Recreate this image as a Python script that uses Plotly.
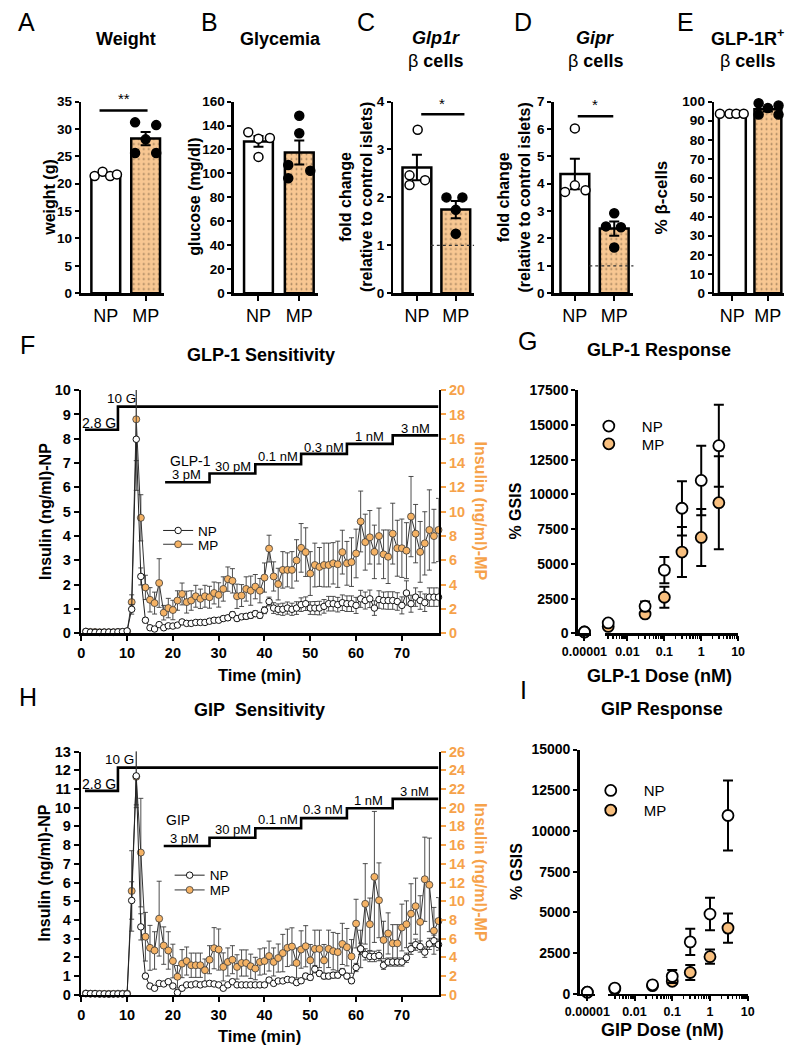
import numpy as np
import plotly.graph_objects as go

W, H = 805, 1055
FONT = "Liberation Sans, Arial, Helvetica, sans-serif"
ORANGE_BAR = "#F8C792"
ORANGE_PT = "#F5B264"
ORANGE_DOT = "#F8BF7E"
ORANGE_TXT = "#F6A24A"

# ======================= DATA =======================
GROUPS = ["NP", "MP"]

WEIGHT_NP = [21.4, 22.2, 21.4, 21.7]
WEIGHT_MP = [31.2, 30.7, 28.1, 25.6, 25.6]
GLUCOSE_NP = [134.4, 113.8, 129.0, 129.6]
GLUCOSE_MP = [148.2, 133.6, 107.0, 96.0, 102.3]
GLP1R_NP = [3.41, 2.46, 2.26, 2.36]
GLP1R_MP = [2.00, 2.00, 1.24, 1.74]
GIPR_NP = [6.02, 3.70, 3.94, 3.76]
GIPR_MP = [2.92, 2.44, 2.41, 1.67]
GLP1R_POS_NP = [93.6, 93.6, 93.6, 93.6]
GLP1R_POS_MP = [99.1, 96.6, 97.9, 93.2, 93.2]

T_MIN = list(range(1, 79))  # sampling times (min)

NP_F = [0.08, 0.05, 0.04, 0.04, 0.05, 0.05, 0.05, 0.06, 0.07, 0.10,
        0.99, 7.98, 2.34, 0.54, 0.23, 0.18, 0.36, 0.23, 0.31, 0.30,
        0.34, 0.47, 0.41, 0.41, 0.45, 0.45, 0.45, 0.50, 0.54, 0.54,
        0.61, 0.64, 0.77, 0.61, 0.68, 0.70, 0.74, 0.81, 0.74, 0.95,
        1.31, 1.04, 0.99, 0.99, 1.04, 0.99, 1.04, 1.18, 1.22, 1.04,
        1.04, 1.04, 1.11, 1.22, 1.22, 1.18, 1.26, 1.22, 1.22, 1.15,
        1.42, 1.35, 1.42, 1.04, 1.39, 1.35, 1.35, 1.35, 1.31, 1.15,
        1.66, 1.22, 1.49, 1.35, 1.26, 1.49, 1.49, 1.49]
NP_F_SEM = [0.03, 0.02, 0.02, 0.02, 0.02, 0.02, 0.02, 0.03, 0.03, 0.04,
            0.20, 2.10, 0.35, 0.10, 0.06, 0.05, 0.08, 0.06, 0.06, 0.06,
            0.06, 0.07, 0.07, 0.07, 0.07, 0.08, 0.08, 0.08, 0.09, 0.09,
            0.10, 0.10, 0.12, 0.10, 0.10, 0.11, 0.12, 0.12, 0.12, 0.14,
            0.18, 0.22, 0.22, 0.25, 0.25, 0.25, 0.26, 0.28, 0.28, 0.26,
            0.27, 0.28, 0.28, 0.30, 0.30, 0.30, 0.32, 0.32, 0.32, 0.33,
            0.35, 0.35, 0.36, 0.30, 0.36, 0.35, 0.36, 0.36, 0.36, 0.35,
            0.50, 0.35, 0.38, 0.36, 0.36, 0.38, 0.38, 0.38]
MP_F = [0.14, 0.12, 0.12, 0.10, 0.10, 0.10, 0.10, 0.12, 0.12, 0.16,
        2.57, 17.6, 9.50, 3.78, 2.76, 2.49, 4.14, 1.70, 2.08, 1.92,
        2.70, 3.24, 2.57, 2.70, 3.05, 2.84, 3.05, 2.97, 3.32, 3.16,
        3.65, 4.46, 4.32, 3.05, 3.11, 3.65, 3.51, 3.84, 3.51, 4.59,
        6.97, 4.68, 4.05, 5.22, 5.22, 5.22, 6.00, 7.03, 6.68, 4.92,
        5.62, 5.46, 5.62, 5.62, 5.76, 5.68, 6.68, 5.76, 5.86, 6.57,
        9.20, 7.50, 7.90, 6.70, 8.00, 6.50, 6.30, 8.20, 7.00, 7.00,
        6.80, 9.60, 8.20, 6.70, 7.40, 8.50, 8.00, 8.50]
MP_F_SEM = [0.05, 0.04, 0.04, 0.04, 0.04, 0.04, 0.04, 0.05, 0.05, 0.06,
            0.6, 3.4, 1.9, 1.0, 1.0, 0.9, 2.0, 0.6, 0.8, 0.8,
            0.8, 0.9, 0.9, 0.8, 0.9, 0.8, 0.9, 0.9, 0.9, 1.0,
            1.0, 1.0, 1.0, 1.0, 0.9, 1.0, 1.2, 1.0, 1.0, 1.2,
            1.1, 1.2, 1.3, 1.5, 1.4, 1.5, 1.7, 2.0, 2.0, 1.8,
            1.8, 1.6, 1.8, 1.8, 1.7, 1.9, 1.8, 1.8, 2.0, 2.0,
            2.5, 2.3, 2.2, 2.2, 2.3, 2.0, 2.2, 2.5, 2.3, 2.4,
            2.3, 3.3, 2.4, 2.5, 2.6, 3.3, 2.2, 2.6]

NP_H = [0.07, 0.06, 0.06, 0.05, 0.05, 0.04, 0.05, 0.05, 0.05, 0.05,
        5.04, 11.7, 3.63, 1.00, 0.47, 0.35, 0.61, 0.58, 0.70, 0.47,
        0.12, 0.35, 0.53, 0.53, 0.58, 0.53, 0.58, 0.61, 0.58, 0.53,
        0.35, 0.53, 0.70, 0.53, 0.53, 0.53, 0.53, 0.53, 0.53, 0.53,
        0.79, 0.61, 0.74, 0.74, 0.82, 0.79, 0.65, 0.75, 1.00, 0.93,
        1.37, 1.14, 1.00, 1.00, 1.05, 1.05, 1.23, 1.00, 0.75, 1.46,
        2.46, 2.16, 2.05, 2.05, 2.10, 1.58, 1.75, 1.75, 1.75, 1.75,
        1.98, 2.46, 2.68, 2.58, 2.28, 2.72, 2.89, 2.68]
NP_H_SEM = [0.03, 0.02, 0.02, 0.02, 0.02, 0.02, 0.02, 0.02, 0.02, 0.03,
            1.0, 1.7, 0.7, 0.15, 0.10, 0.08, 0.10, 0.10, 0.10, 0.10,
            0.06, 0.08, 0.08, 0.08, 0.08, 0.08, 0.08, 0.08, 0.08, 0.08,
            0.08, 0.08, 0.10, 0.08, 0.08, 0.08, 0.08, 0.08, 0.08, 0.08,
            0.12, 0.10, 0.12, 0.12, 0.12, 0.12, 0.12, 0.12, 0.15, 0.15,
            0.20, 0.15, 0.15, 0.15, 0.15, 0.15, 0.18, 0.15, 0.15, 0.22,
            0.30, 0.30, 0.28, 0.28, 0.28, 0.22, 0.22, 0.22, 0.22, 0.22,
            0.25, 0.30, 0.30, 0.30, 0.28, 0.30, 0.30, 0.30]
MP_H = [0.14, 0.12, 0.12, 0.10, 0.10, 0.10, 0.10, 0.12, 0.12, 0.14,
        11.1, 23.3, 15.2, 6.21, 5.02, 4.74, 8.14, 5.26, 4.74, 3.61,
        1.93, 3.33, 3.61, 3.16, 3.16, 3.16, 2.63, 3.75, 4.98, 4.84,
        2.98, 3.51, 3.75, 2.98, 3.40, 3.40, 3.05, 2.81, 3.51, 3.61,
        4.14, 3.51, 3.93, 4.46, 5.02, 5.16, 3.40, 4.84, 5.19, 3.68,
        4.91, 4.91, 3.68, 4.91, 4.67, 4.56, 5.44, 5.09, 4.10, 7.61,
        4.90, 9.72, 7.54, 12.6, 10.1, 5.86, 6.56, 5.50, 5.50, 7.19,
        7.54, 8.67, 9.47, 7.79, 12.35, 11.75, 6.84, 7.89]
MP_H_SEM = [0.05, 0.04, 0.04, 0.04, 0.04, 0.04, 0.04, 0.04, 0.04, 0.05,
            4.3, 3.0, 5.8, 2.6, 2.4, 2.0, 4.0, 2.0, 2.0, 1.8,
            1.2, 1.5, 1.5, 1.3, 1.3, 1.3, 1.2, 1.5, 2.2, 2.2,
            1.5, 1.5, 1.5, 1.3, 1.4, 1.4, 1.3, 1.2, 1.4, 1.4,
            1.6, 1.5, 1.5, 2.0, 2.0, 2.0, 1.6, 2.0, 2.2, 1.7,
            2.0, 2.0, 1.7, 2.0, 2.0, 2.0, 2.2, 2.0, 1.8, 2.6,
            2.0, 4.3, 2.8, 7.0, 4.0, 2.0, 2.2, 2.0, 2.0, 2.5,
            2.5, 3.2, 3.0, 2.8, 4.5, 5.0, 2.5, 2.5]

# perifusion protocol (left-axis units): glucose step and peptide dose steps
F_GLU_T = [0.8, 8, 78]
F_GLU_LVL = [8.37, 9.32, 9.32]
F_DOSE_T = [18.3, 28, 38, 48, 58, 68, 78]
F_DOSE_LVL = [6.21, 6.57, 6.95, 7.38, 7.79, 8.14, 8.14]
H_GLU_T = [0.8, 8, 78]
H_GLU_LVL = [10.9, 12.14, 12.14]
H_DOSE_T = [18.0, 28, 38, 48, 58, 68, 78]
H_DOSE_LVL = [7.95, 8.39, 8.90, 9.44, 9.97, 10.47, 10.47]
DOSE_LABELS = ["3 pM", "30 pM", "0.1 nM", "0.3 nM", "1 nM", "3 nM"]

DOSE_NM = [0, 0.003, 0.03, 0.1, 0.3, 1, 3]
GLP1_GSIS_NP = [100, 750, 1950, 4550, 9000, 11000, 13500]
GLP1_GSIS_NP_SEM = [30, 100, 350, 950, 1950, 2500, 2950]
GLP1_GSIS_MP = [100, 500, 1400, 2600, 5850, 6900, 9400]
GLP1_GSIS_MP_SEM = [30, 80, 150, 750, 1800, 2050, 3350]
GIP_GSIS_NP = [100, 350, 550, 1070, 3190, 4900, 10950]
GIP_GSIS_NP_SEM = [30, 60, 80, 400, 800, 1000, 2150]
GIP_GSIS_MP = [100, 300, 500, 770, 1310, 2280, 4035]
GIP_GSIS_MP_SEM = [30, 50, 80, 150, 460, 440, 900]
ZERO_DOSE_AT = 1e-5  # zero dose drawn on the broken axis segment

# ======================= HELPERS =======================
def ax_name(letter, k):
    return f"{letter}axis" if k == 1 else f"{letter}axis{k}"


def ax_ref(letter, k):
    return letter if k == 1 else f"{letter}{k}"


def xdom(a, b):
    return [a / W, b / W]


def ydom(top, bottom):
    return [1 - bottom / H, 1 - top / H]


def bold(size, color="black"):
    return dict(family=FONT, size=size, color=color, weight="bold")


BASE_AX = dict(showgrid=False, zeroline=False, showline=True, linecolor="black",
               linewidth=2.5, ticks="outside", ticklen=5, tickwidth=2,
               tickcolor="black", tickfont=bold(14))

fig = go.Figure()
axes = {}
ann = []
shapes = []


def text(x, y, s, size=13, bold_=False, angle=0, color="black", xref="paper",
         yref="paper", xanchor="center", italic=False):
    if xref == "paper":
        x = x / W
    if yref == "paper":
        y = 1 - y / H
    if italic:
        s = f"<i>{s}</i>"
    if bold_:
        s = f"<b>{s}</b>"
    ann.append(dict(x=x, y=y, xref=xref, yref=yref, text=s, showarrow=False,
                    textangle=angle, xanchor=xanchor, yanchor="middle",
                    font=dict(family=FONT, size=size, color=color)))


# ======================= TOP ROW (A-E) =======================
TOP_Y = (95, 289.6)
TOP_PANELS = [
    dict(k=1, np=WEIGHT_NP, mp=WEIGHT_MP, jn=[-0.28, -0.08, 0.11, 0.28],
         jm=[-0.265, 0.265, 0, -0.265, 0.265], ymax=35, dtick=5,
         px=(68, 93.5, 135, 154), bar=30),
    dict(k=2, np=GLUCOSE_NP, mp=GLUCOSE_MP, jn=[-0.25, 0, 0, 0.28],
         jm=[0, 0, -0.27, -0.27, 0.27], ymax=160, dtick=20,
         px=(227, 252.5, 295, 314), bar=30),
    dict(k=3, np=GLP1R_NP, mp=GLP1R_MP, jn=[0.02, -0.19, -0.19, 0.21],
         jm=[-0.24, 0.17, 0, 0], ymax=4, dtick=1,
         px=(393, 417.5, 458, 477), bar=30),
    dict(k=4, np=GIPR_NP, mp=GIPR_MP, jn=[0, -0.25, 0, 0.27],
         jm=[0, -0.21, 0.17, 0], ymax=7, dtick=1,
         px=(560, 582, 623, 643), bar=30),
    dict(k=5, np=GLP1R_POS_NP, mp=GLP1R_POS_MP, jn=[-0.35, -0.08, 0.11, 0.32],
         jm=[-0.26, 0, 0.3, -0.26, 0.3], ymax=100, dtick=10,
         px=(727, 746, 783, 800), bar=28),
]

for p in TOP_PANELS:
    k = p["k"]
    x0, cn, cm, x1 = p["px"]
    unit = cm - cn
    rng = [-(cn - x0) / unit, 1 + (x1 - cm) / unit]
    bw = p["bar"] / unit
    xr, yr = ax_ref("x", k), ax_ref("y", k)
    axes[ax_name("x", k)] = dict(BASE_AX, domain=xdom(x0, x1), range=rng,
                                 tickmode="array", tickvals=[0, 1], ticktext=GROUPS,
                                 anchor=yr, tickfont=dict(family=FONT, size=18, color="black"))
    axes[ax_name("y", k)] = dict(BASE_AX, domain=ydom(*TOP_Y), range=[0, p["ymax"]],
                                 dtick=p["dtick"], tick0=0, anchor=xr, ticklen=4,
                                 tickfont=bold(13.5))
    for gi, vals in enumerate([p["np"], p["mp"]]):
        arr = np.array(vals, float)
        mean = arr.mean()
        sem = arr.std(ddof=1) / np.sqrt(len(arr))
        marker = dict(color="white" if gi == 0 else ORANGE_BAR,
                      line=dict(color="black", width=2.5))
        if gi == 1:
            marker["pattern"] = dict(shape=".", fillmode="overlay", fgcolor="#5a4630",
                                     fgopacity=0.6, size=5, solidity=0.12)
        fig.add_trace(go.Bar(x=[gi], y=[mean], width=bw, marker=marker,
                             error_y=dict(type="data", array=[sem], color="black",
                                          thickness=2, width=5),
                             xaxis=xr, yaxis=yr, showlegend=False, hoverinfo="skip"))
    for gi, (vals, jit) in enumerate([(p["np"], p["jn"]), (p["mp"], p["jm"])]):
        fig.add_trace(go.Scatter(x=gi + np.array(jit), y=vals, mode="markers",
                                 marker=dict(size=9, color="white" if gi == 0 else "black",
                                             line=dict(color="black", width=1.5)),
                                 cliponaxis=False, xaxis=xr, yaxis=yr, showlegend=False,
                                 hoverinfo="skip"))

# significance bars and reference lines
for (a, b, y, star, sy, sx) in [(87, 137, 104, "**", 92, 112),
                                 (422, 467, 108, "*", 97, 444),
                                 (585, 622, 110, "*", 98, 603)]:
    shapes.append(dict(type="line", xref="paper", yref="paper", x0=a / W, x1=b / W,
                       y0=1 - y / H, y1=1 - y / H, line=dict(color="black", width=2.5)))
    text(sx, sy, star, size=15)
for k, a, b in [(3, 432, 477), (4, 597, 643)]:
    shapes.append(dict(type="line", xref="paper", yref=ax_ref("y", k), x0=a / W, x1=b / W,
                       y0=1, y1=1, layer="above",
                       line=dict(color="#333", width=1.3, dash="dot")))

# ======================= TIME SERIES (F, H) =======================
def ts_panel(kx, ky_mp, ky_np, top, bottom, np_max, mp_max, npv, nps, mpv, mps,
             glu_t, glu_l, dose_t, dose_l, leg_np, leg_mp):
    xr, ymp, ynp = f"x{kx}", f"y{ky_mp}", f"y{ky_np}"
    axes[f"xaxis{kx}"] = dict(BASE_AX, domain=xdom(68, 440), range=[0, 78], dtick=10,
                              tick0=0, anchor=ymp, tickfont=bold(14.5))
    axes[f"yaxis{ky_mp}"] = dict(BASE_AX, domain=ydom(top, bottom), range=[0, mp_max],
                                 dtick=2, tick0=0, side="right", anchor=xr,
                                 tickcolor=ORANGE_TXT, tickfont=bold(14.5, ORANGE_TXT))
    axes[f"yaxis{ky_np}"] = dict(BASE_AX, domain=ydom(top, bottom), range=[0, np_max],
                                 dtick=1, tick0=0, side="left", overlaying=ymp, anchor=xr,
                                 tickfont=bold(14.5))
    # MP on base (right) axis
    fig.add_trace(go.Scatter(x=T_MIN, y=mpv, mode="markers",
                             marker=dict(size=2, opacity=0),
                             error_y=dict(type="data", array=mps, color="#3a3a3a",
                                          thickness=0.9, width=2.5),
                             xaxis=xr, yaxis=ymp, showlegend=False, hoverinfo="skip"))
    fig.add_trace(go.Scatter(x=T_MIN, y=mpv, mode="lines+markers", name="MP",
                             line=dict(color="#333", width=1),
                             marker=dict(size=7, color=ORANGE_PT,
                                         line=dict(color="#3a3a3a", width=0.8)),
                             cliponaxis=False, xaxis=xr, yaxis=ymp, legend=leg_mp,
                             hoverinfo="skip"))
    # protocol steps on NP axis
    for tt, ll in [(glu_t, glu_l), (dose_t, dose_l)]:
        fig.add_trace(go.Scatter(x=tt, y=ll, mode="lines",
                                 line=dict(color="black", width=2.6, shape="hv"),
                                 xaxis=xr, yaxis=ynp, showlegend=False, hoverinfo="skip"))
    fig.add_trace(go.Scatter(x=T_MIN, y=npv, mode="markers",
                             marker=dict(size=2, opacity=0),
                             error_y=dict(type="data", array=nps, color="#3a3a3a",
                                          thickness=0.9, width=2.5),
                             xaxis=xr, yaxis=ynp, showlegend=False, hoverinfo="skip"))
    fig.add_trace(go.Scatter(x=T_MIN, y=npv, mode="lines+markers", name="NP",
                             line=dict(color="#222", width=1),
                             marker=dict(size=6.5, color="white",
                                         line=dict(color="#111", width=1)),
                             cliponaxis=False, xaxis=xr, yaxis=ynp, legend=leg_np,
                             hoverinfo="skip"))
    return xr, ynp


xr, ynp = ts_panel(6, 6, 7, 388, 635, 10, 20, NP_F, NP_F_SEM, MP_F, MP_F_SEM,
                   F_GLU_T, F_GLU_LVL, F_DOSE_T, F_DOSE_LVL, "legend", "legend2")
text(3.9, 8.64, "2.8 G", size=14, xref=xr, yref=ynp)
text(8.8, 9.65, "10 G", size=13.5, xref=xr, yref=ynp)
text(23.8, 7.09, "GLP-1", size=14, xref=xr, yref=ynp)
for tx, ty, lab in zip([22.9, 33.1, 42.9, 52.9, 62.9, 72.9],
                       [6.55, 6.88, 7.26, 7.66, 8.10, 8.43], DOSE_LABELS):
    text(tx, ty, lab, size=13, xref=xr, yref=ynp)

xr, ynp = ts_panel(9, 9, 10, 755, 1002, 13, 26, NP_H, NP_H_SEM, MP_H, MP_H_SEM,
                   H_GLU_T, H_GLU_LVL, H_DOSE_T, H_DOSE_LVL, "legend3", "legend4")
text(3.9, 11.28, "2.8 G", size=14, xref=xr, yref=ynp)
text(8.4, 12.58, "10 G", size=13.5, xref=xr, yref=ynp)
text(21.2, 9.35, "GIP", size=14, xref=xr, yref=ynp)
for tx, ty, lab in zip([22.6, 33.1, 42.9, 52.7, 62.7, 72.8],
                       [8.34, 8.81, 9.35, 9.88, 10.39, 10.88], DOSE_LABELS):
    text(tx, ty, lab, size=13, xref=xr, yref=ynp)

# ======================= DOSE RESPONSE (G, I) =======================
MINOR_LOG = [m * 10.0 ** e for e in (-3, -2, -1, 0) for m in range(2, 10)]


def dose_panel(kb, km, ky, xb_px, xm_px, lo, top, bottom, ymax, npv, nps, mpv, mps,
               leg_np, leg_mp):
    xb, xm, yr = f"x{kb}", f"x{km}", f"y{ky}"
    axes[f"xaxis{kb}"] = dict(BASE_AX, domain=xdom(*xb_px), type="log", range=[-5.3, -4.7],
                              tickmode="array", tickvals=[ZERO_DOSE_AT], ticktext=["0.00001"],
                              anchor=yr, tickfont=bold(12.5))
    axes[f"xaxis{km}"] = dict(BASE_AX, domain=xdom(*xm_px), type="log", range=[lo, 1.0],
                              tickmode="array", tickvals=[0.01, 0.1, 1, 10],
                              ticktext=["0.01", "0.1", "1", "10"], anchor=yr,
                              tickfont=bold(12.5),
                              minor=dict(tickmode="array", tickvals=MINOR_LOG, ticks="outside",
                                         ticklen=3, tickwidth=1.5, tickcolor="black"))
    axes[f"yaxis{ky}"] = dict(BASE_AX, domain=ydom(top, bottom), range=[0, ymax], dtick=2500,
                              tick0=0, tickformat="d", anchor=xb, tickfont=bold(14), ticklen=4)
    d = np.array(DOSE_NM, float)
    z = d == 0
    for name, vals, sems, fill, leg in [("MP", mpv, mps, ORANGE_DOT, leg_mp),
                                        ("NP", npv, nps, "white", leg_np)]:
        vals = np.array(vals, float)
        sems = np.array(sems, float)
        mk = dict(size=11, color=fill, line=dict(color="black", width=1.8))
        fig.add_trace(go.Scatter(x=np.full(int(z.sum()), ZERO_DOSE_AT), y=vals[z],
                                 mode="markers", marker=mk,
                                 error_y=dict(type="data", array=sems[z], color="black",
                                              thickness=2, width=5),
                                 cliponaxis=False, xaxis=xb, yaxis=yr, showlegend=False,
                                 hoverinfo="skip"))
        fig.add_trace(go.Scatter(x=d[~z], y=vals[~z], mode="markers", marker=mk, name=name,
                                 error_y=dict(type="data", array=sems[~z], color="black",
                                              thickness=2, width=5),
                                 cliponaxis=False, xaxis=xm, yaxis=yr, legend=leg,
                                 hoverinfo="skip"))


dose_panel(7, 8, 8, (585, 599), (613, 752), -2.62, 388, 635, 17500,
           GLP1_GSIS_NP, GLP1_GSIS_NP_SEM, GLP1_GSIS_MP, GLP1_GSIS_MP_SEM,
           "legend5", "legend6")
dose_panel(10, 11, 11, (587, 603), (617, 762), -2.69, 753, 1001, 15000,
           GIP_GSIS_NP, GIP_GSIS_NP_SEM, GIP_GSIS_MP, GIP_GSIS_MP_SEM,
           "legend7", "legend8")

# ======================= TEXT =======================
for lt, x, y in [("A", 11, 14), ("B", 202, 14), ("C", 365, 14), ("D", 528, 14),
                 ("E", 697, 14), ("F", 12, 342), ("G", 533, 338), ("H", 12, 700),
                 ("I", 528, 692)]:
    text(x, y, lt, size=25)

text(115, 31, "Weight", size=18, bold_=True)
text(275, 31, "Glycemia", size=18, bold_=True)
text(437, 30, "Glp1r", size=18, bold_=True, italic=True)
text(603, 30, "Gipr", size=18, bold_=True, italic=True)
text(762, 30, "GLP-1R<sup>+</sup>", size=18, bold_=True)
for x in (437, 603, 762):
    text(x, 54, "β <b>cells</b>", size=18)

text(34, 192, "weight (g)", size=16, bold_=True, angle=-90)
text(185, 192, "glucose (mg/dl)", size=16, bold_=True, angle=-90)
text(354, 192, "fold change<br>(relative to control islets)", size=16, bold_=True, angle=-90)
text(519, 192, "fold change<br>(relative to control islets)", size=16, bold_=True, angle=-90)
text(672, 192, "% β-cells", size=17, bold_=True, angle=-90)

text(255, 352, "GLP-1 Sensitivity", size=18, bold_=True)
text(670, 347, "GLP-1 Response", size=18, bold_=True)
text(254, 713, "GIP\u00a0 Sensitivity", size=18, bold_=True)
text(673, 712, "GIP Response", size=18, bold_=True)

for yc in (511, 878):
    text(30, yc, "Insulin (ng/ml)-NP", size=16, bold_=True, angle=-90)
    text(484, yc, "Insulin (ng/ml)-MP", size=16, bold_=True, angle=90, color=ORANGE_TXT)
text(254, 677, "Time (min)", size=16.5, bold_=True)
text(254, 1044, "Time (min)", size=16.5, bold_=True)
text(520, 511, "% GSIS", size=16, bold_=True, angle=-90)
text(521, 877, "% GSIS", size=16, bold_=True, angle=-90)
text(670, 678, "GLP-1 Dose (nM)", size=18, bold_=True)
text(673, 1038, "GIP Dose (nM)", size=18, bold_=True)

# ======================= LAYOUT =======================
LEG = dict(xanchor="left", yanchor="top", bgcolor="rgba(0,0,0,0)", borderwidth=0,
           traceorder="normal", tracegroupgap=0)
legends = {}
for i, (lx, ly, fs, iw) in enumerate([(148, 515, 13.5, 30), (148, 529, 13.5, 30),
                                      (160, 865, 13.5, 30), (160, 880, 13.5, 30),
                                      (583, 408, 15, 56), (583, 426, 15, 56),
                                      (585, 778, 15, 56), (585, 798, 15, 56)]):
    key = "legend" if i == 0 else f"legend{i + 1}"
    legends[key] = dict(LEG, x=lx / W, y=1 - ly / H, itemwidth=iw,
                        font=dict(family=FONT, size=fs, color="black"))

fig.update_layout(
    width=W, height=H, autosize=False, margin=dict(l=0, r=0, t=0, b=0),
    paper_bgcolor="white", plot_bgcolor="white", barmode="overlay",
    font=dict(family=FONT, color="black"), showlegend=True,
    annotations=ann, shapes=shapes, **legends, **axes,
)

fig.write_html("out.html", config={"displayModeBar": False, "staticPlot": True},
               post_script="document.body.style.margin='0';"
                           "document.documentElement.style.overflow='hidden';")
